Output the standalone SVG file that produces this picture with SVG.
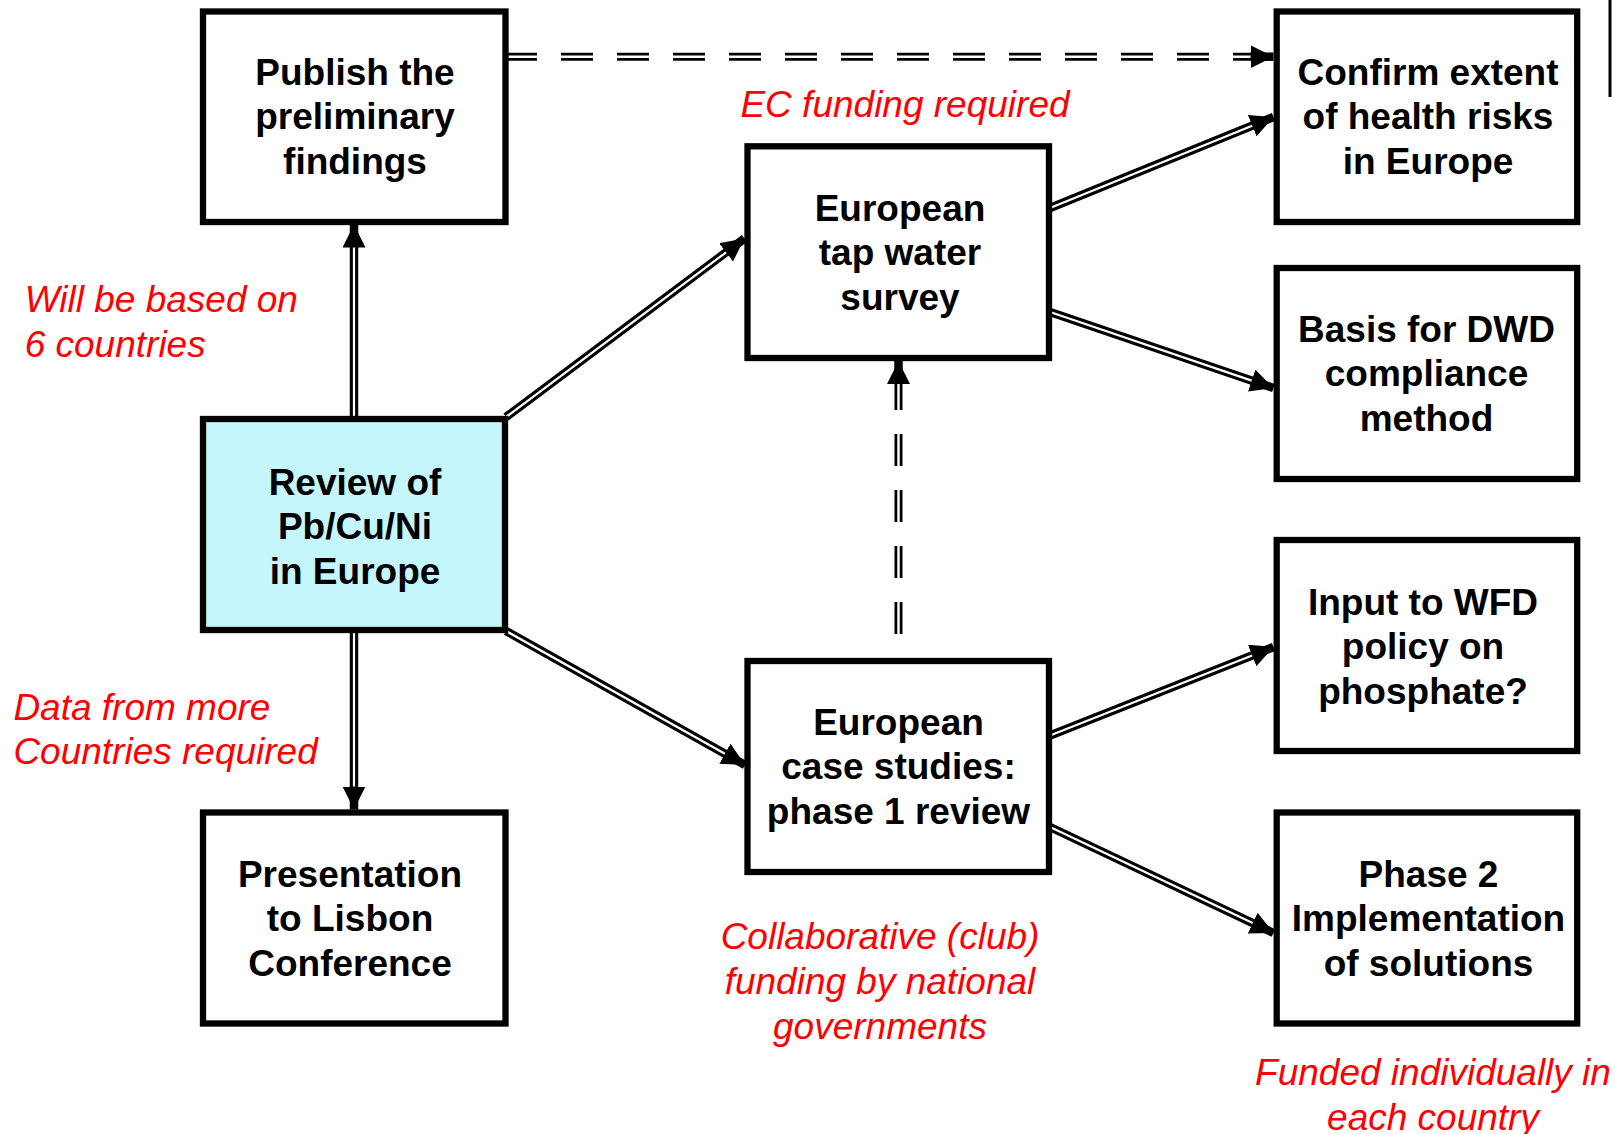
<svg xmlns="http://www.w3.org/2000/svg" width="1615" height="1134" viewBox="0 0 1615 1134">
<style>
.box{fill:#ffffff;stroke:#000000;stroke-width:6.3}
.hl{fill:#c5f6fb}
.t{font-family:"Liberation Sans",Arial,sans-serif;font-weight:bold;font-size:37px;fill:#000000;text-anchor:middle}
.r{font-family:"Liberation Sans",Arial,sans-serif;font-style:italic;font-size:37px;fill:#ff0000}
.m{text-anchor:middle}
.o{fill:none;stroke:#000000;stroke-width:8.5}
.i{fill:none;stroke:#ffffff;stroke-width:2.2}
.od{fill:none;stroke:#000000;stroke-width:8;stroke-dasharray:32 24}
.id{fill:none;stroke:#ffffff;stroke-width:2.4;stroke-dasharray:32 24}
</style>
<defs>
<marker id="ah" markerUnits="userSpaceOnUse" markerWidth="23" markerHeight="23" refX="23" refY="11.5" orient="auto" viewBox="0 0 23 23">
<path d="M0,0 L23,11.5 L0,23 z" fill="#000000"/>
</marker>
</defs>
<rect width="1615" height="1134" fill="#ffffff"/>
<line x1="1610" y1="0" x2="1610" y2="97" stroke="#000000" stroke-width="3"/>

<g id="connectors">
<!-- Review -> Publish -->
<path class="o" d="M354,419 L354,224.5" marker-end="url(#ah)"/>
<path class="i" d="M354,419 L354,247.5"/>
<!-- Review -> Presentation -->
<path class="o" d="M354,630 L354,809.5" marker-end="url(#ah)"/>
<path class="i" d="M354,630 L354,786.5"/>
<!-- Review -> Tap water -->
<path class="o" d="M506,417 L744.5,238.5" marker-end="url(#ah)"/>
<path class="i" d="M506,417 L726.1,252.3"/>
<!-- Review -> Case studies -->
<path class="o" d="M506,631 L745,765" marker-end="url(#ah)"/>
<path class="i" d="M506,631 L724.9,753.8"/>
<!-- Tap -> Confirm -->
<path class="o" d="M1050,208 L1273.5,117" marker-end="url(#ah)"/>
<path class="i" d="M1050,208 L1252.2,125.7"/>
<!-- Tap -> Basis -->
<path class="o" d="M1050,312 L1273.5,388" marker-end="url(#ah)"/>
<path class="i" d="M1050,312 L1251.7,380.6"/>
<!-- Case -> Input -->
<path class="o" d="M1050,735.5 L1273.5,647" marker-end="url(#ah)"/>
<path class="i" d="M1050,735.5 L1252.1,655.5"/>
<!-- Case -> Phase 2 -->
<path class="o" d="M1050,827 L1273.5,933" marker-end="url(#ah)"/>
<path class="i" d="M1050,827 L1252.7,923.1"/>
<!-- Publish -> Confirm (dashed) -->
<path class="od" d="M505,56.7 L1251,56.7"/>
<path class="id" d="M505,56.7 L1251,56.7"/>
<path class="o" d="M1250.5,56.7 L1273.5,56.7" stroke-width="0" marker-end="url(#ah)"/>
<!-- Case -> Tap (dashed, upward) -->
<path class="od" d="M898.5,378 L898.5,661"/>
<path class="id" d="M898.5,378 L898.5,661"/>
<path class="o" d="M898.5,384 L898.5,361" stroke-width="0" marker-end="url(#ah)"/>
</g>

<g id="publish">
<rect class="box" x="203" y="11.5" width="302.5" height="210.5"/>
<text class="t" x="355" y="84.5">Publish the</text>
<text class="t" x="355" y="129">preliminary</text>
<text class="t" x="355" y="173.5">findings</text>
</g>
<g id="review">
<rect class="box hl" x="203" y="419" width="302" height="211"/>
<text class="t" x="355" y="494.5">Review of</text>
<text class="t" x="355" y="539">Pb/Cu/Ni</text>
<text class="t" x="355" y="583.5">in Europe</text>
</g>
<g id="presentation">
<rect class="box" x="203" y="812.5" width="302.5" height="211"/>
<text class="t" x="350" y="886.5">Presentation</text>
<text class="t" x="350" y="931">to Lisbon</text>
<text class="t" x="350" y="975.5">Conference</text>
</g>
<g id="tapwater">
<rect class="box" x="747.5" y="146.3" width="301.5" height="211.7"/>
<text class="t" x="900" y="220.5">European</text>
<text class="t" x="900" y="265">tap water</text>
<text class="t" x="900" y="309.5">survey</text>
</g>
<g id="casestudies">
<rect class="box" x="747.5" y="661" width="301.5" height="211"/>
<text class="t" x="898.5" y="734.5">European</text>
<text class="t" x="898.5" y="779">case studies:</text>
<text class="t" x="898.5" y="823.5">phase 1 review</text>
</g>
<g id="confirm">
<rect class="box" x="1276.7" y="11.5" width="300.5" height="210.5"/>
<text class="t" x="1428" y="84.5">Confirm extent</text>
<text class="t" x="1428" y="129">of health risks</text>
<text class="t" x="1428" y="173.5">in Europe</text>
</g>
<g id="basis">
<rect class="box" x="1276.7" y="268" width="300.5" height="211"/>
<text class="t" x="1426.5" y="341.5">Basis for DWD</text>
<text class="t" x="1426.5" y="386">compliance</text>
<text class="t" x="1426.5" y="430.5">method</text>
</g>
<g id="input">
<rect class="box" x="1276.7" y="540" width="300.5" height="211"/>
<text class="t" x="1423" y="614.5">Input to WFD</text>
<text class="t" x="1423" y="659">policy on</text>
<text class="t" x="1423" y="703.5">phosphate?</text>
</g>
<g id="phase2">
<rect class="box" x="1276.7" y="812.5" width="300.5" height="211"/>
<text class="t" x="1428.5" y="886.5">Phase 2</text>
<text class="t" x="1428.5" y="931">Implementation</text>
<text class="t" x="1428.5" y="975.5">of solutions</text>
</g>

<g id="labels">
<text class="r m" x="905" y="117">EC funding required</text>
<text class="r" x="24.7" y="312">Will be based on</text>
<text class="r" x="24.7" y="356.5">6 countries</text>
<text class="r" x="13.4" y="719.5">Data from more</text>
<text class="r" x="13.4" y="764">Countries required</text>
<text class="r m" x="880" y="949">Collaborative (club)</text>
<text class="r m" x="880" y="994">funding by national</text>
<text class="r m" x="880" y="1039">governments</text>
<text class="r m" x="1433" y="1085">Funded individually in</text>
<text class="r m" x="1433" y="1129.5">each country</text>
</g>
</svg>
